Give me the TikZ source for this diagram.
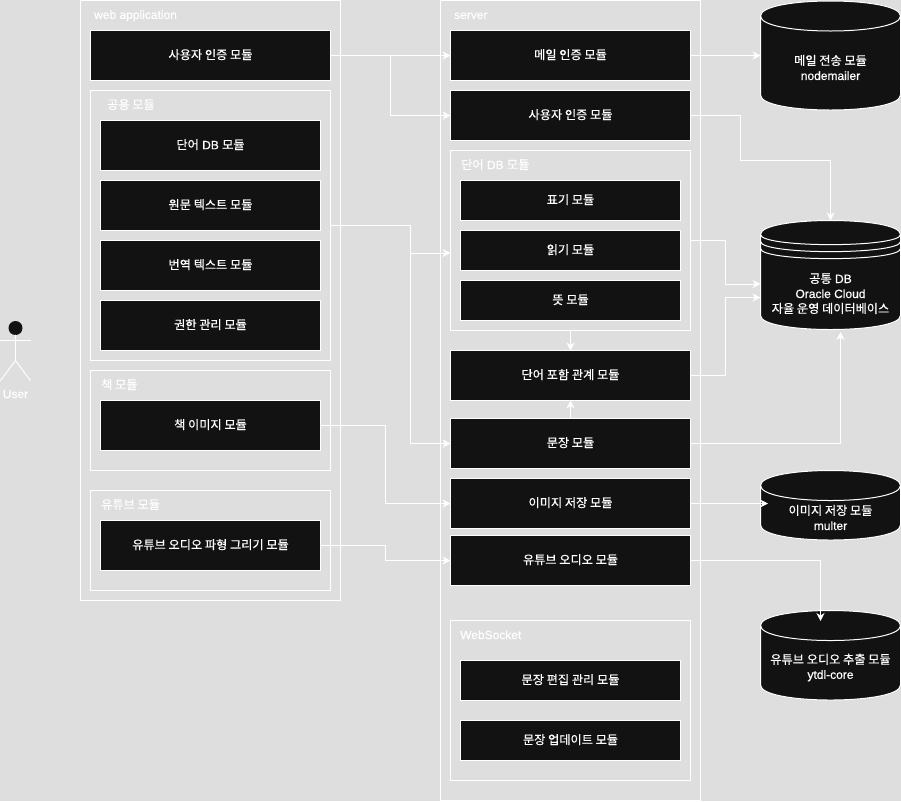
\documentclass[tikz,border=0pt]{standalone}
\usepackage{fontspec}
\setmainfont{Liberation Sans}[FakeBold=0.6]
\newfontfamily\kr{Noto Sans CJK KR}[Scale=1.015,FakeBold=0.5]
\usetikzlibrary{arrows.meta}
\definecolor{pagegrey}{HTML}{DEDEDE}
\definecolor{modblack}{HTML}{121212}

% drum: name, top, bottom, dy, arc depth (x stays 760.5 .. 900.5)
\newcommand{\drum}[5]{%
  \path[drumbody] (760.5,#2+#4) .. controls (760.5,#2-#4/3) and (900.5,#2-#4/3) .. (900.5,#2+#4)
    -- (900.5,#3-#4) .. controls (900.5,#3+#4/3) and (760.5,#3+#4/3) .. (760.5,#3-#4) -- cycle;
  \draw[wire] (760.5,#2+#4) .. controls (760.5,#2+#4+#5) and (900.5,#2+#4+#5) .. (900.5,#2+#4);
  \node[drumanchor, minimum height=#3pt-#2pt] (#1) at (830.5,#2/2+#3/2) {};
}

\begin{document}
\begin{tikzpicture}[x=1pt, y=-1pt, line cap=round,
    wire/.style={draw=white, line width=1pt},
    link/.style={wire, line cap=butt, -{Stealth[length=8pt,width=8pt,inset=2.5pt]}},
    groupbox/.style={draw=white, line width=1pt, inner sep=0pt, outer sep=0pt},
    modbox/.style={groupbox, fill=modblack, text=white, text height=9.4pt, text depth=2pt,
      font=\fontsize{12}{15}\selectfont},
    wideb/.style={modbox, minimum width=240pt, minimum height=50pt},
    midb/.style={modbox, minimum width=220pt, minimum height=50pt},
    smallb/.style={modbox, minimum width=220pt, minimum height=40pt},
    grouplabel/.style={anchor=west, inner sep=0pt, text=white, font=\fontsize{12}{15}\selectfont},
    drumbody/.style={wire, fill=modblack},
    drumanchor/.style={inner sep=0pt, outer sep=0pt, minimum width=140pt},
    drumlabel/.style={inner sep=0pt, text=white, align=center, font=\fontsize{12}{15}\selectfont}]

  \useasboundingbox[fill=pagegrey] (0,0) rectangle (901,801);

  % user
  \node[circle, fill=modblack, minimum size=14pt, inner sep=0pt] (userHead) at (15.5,328) {};
  \coordinate (userHip) at (15.5,360.5);
  \coordinate (userArmL) at (0.5,340.5);
  \coordinate (userArmR) at (30.5,340.5);
  \coordinate (userFootL) at (0.5,380.5);
  \coordinate (userFootR) at (30.5,380.5);
  \draw[wire] (userHead.south) -- (userHip);
  \draw[wire] (userArmL) -- (userArmR);
  \draw[wire] (userFootL) -- (userHip) -- (userFootR);
  \node[drumlabel] (userName) at (15.5,394) {User};

  % web application
  \node[groupbox, minimum width=260pt, minimum height=600pt] (webApp) at (210.5,300.5) {};
  \node[grouplabel] (webAppName) at (94,15.8) {web application};
  \node[wideb] (webAuth) at (210.5,55.5) {\kr 사용자 인증 모듈};

  \node[groupbox, minimum width=240pt, minimum height=270pt] (webShared) at (210.5,225.5) {};
  \node[grouplabel] (webSharedName) at (107,104.6) {\kr 공용 모듈};
  \node[midb] (webWord) at (210.5,145.5) {{\kr 단어} DB {\kr 모듈}};
  \node[midb] (webSource) at (210.5,205.5) {\kr 원문 텍스트 모듈};
  \node[midb] (webTrans) at (210.5,265.5) {\kr 번역 텍스트 모듈};
  \node[midb] (webRights) at (210.5,325.5) {\kr 권한 관리 모듈};

  \node[groupbox, minimum width=240pt, minimum height=100pt] (webBook) at (210.5,420.5) {};
  \node[grouplabel] (webBookName) at (101,384.6) {\kr 책 모듈};
  \node[midb] (webBookImg) at (210.5,425.5) {\kr 책 이미지 모듈};

  \node[groupbox, minimum width=240pt, minimum height=100pt] (webYt) at (210.5,540.5) {};
  \node[grouplabel] (webYtName) at (101,504.6) {\kr 유튜브 모듈};
  \node[midb] (webYtWave) at (210.5,545.5) {\kr 유튜브 오디오 파형 그리기 모듈};

  % server
  \node[groupbox, minimum width=260pt, minimum height=800pt] (srv) at (570.5,400.5) {};
  \node[grouplabel] (srvName) at (454,15.8) {server};
  \node[wideb] (srvMail) at (570.5,55.5) {\kr 메일 인증 모듈};
  \node[wideb] (srvAuth) at (570.5,115.5) {\kr 사용자 인증 모듈};

  \node[groupbox, minimum width=240pt, minimum height=180pt] (wordDB) at (570.5,240.5) {};
  \node[grouplabel] (wordDBName) at (461,164.6) {{\kr 단어} DB {\kr 모듈}};
  \node[smallb] (wordForm) at (570.5,200.5) {\kr 표기 모듈};
  \node[smallb] (wordRead) at (570.5,250.5) {\kr 읽기 모듈};
  \node[smallb] (wordMean) at (570.5,300.5) {\kr 뜻 모듈};

  \node[wideb] (srvContain) at (570.5,375.5) {\kr 단어 포함 관계 모듈};
  \node[wideb] (srvSent) at (570.5,443.5) {\kr 문장 모듈};
  \node[wideb] (srvImage) at (570.5,503.5) {\kr 이미지 저장 모듈};
  \node[wideb] (srvYt) at (570.5,560.5) {\kr 유튜브 오디오 모듈};

  \node[groupbox, minimum width=240pt, minimum height=160pt] (socket) at (570.5,700.5) {};
  \node[grouplabel] (socketName) at (460,634.8) {WebSocket};
  \node[smallb] (sockEdit) at (570.5,680.5) {\kr 문장 편집 관리 모듈};
  \node[smallb] (sockUpdate) at (570.5,740.5) {\kr 문장 업데이트 모듈};

  % drums
  \drum{dbMail}{1}{110}{15}{20}
  \node[drumlabel] (dbMailName) at (830.5,67.5) {{\kr 메일 전송 모듈}\\nodemailer};

  \drum{dbShared}{220.5}{329.5}{14}{13.5}
  \draw[wire] (760.5,241.5) .. controls (760.5,255) and (900.5,255) .. (900.5,241.5);
  \draw[wire] (760.5,248.5) .. controls (760.5,262) and (900.5,262) .. (900.5,248.5);
  \node[drumlabel] (dbSharedName) at (830.5,293.6) {{\kr 공통} DB\\Oracle Cloud\\{\kr 자율 운영 데이터베이스}};

  \drum{dbImage}{470.5}{540}{15}{20}
  \node[drumlabel] (dbImageName) at (830.5,517.5) {{\kr 이미지 저장 모듈}\\multer};

  \drum{dbYt}{610.5}{700}{15}{20}
  \node[drumlabel] (dbYtName) at (830.5,667.5) {{\kr 유튜브 오디오 추출 모듈}\\ytdl-core};

  % arrow ends that are not on an anchor
  \coordinate (wordIn) at (450.5,253);
  \coordinate (dbSharedA) at (760.5,284);
  \coordinate (dbSharedB) at (760.5,297.5);
  \coordinate (dbSharedC) at (840.5,332);
  \coordinate (dbImageIn) at (768,503.5);
  \coordinate (dbYtIn) at (820.5,621);

  % web to server
  \draw[link] (webAuth.east) -- (srvMail.west);
  \draw[link] (webAuth.east) -- ++(60,0) |- (srvAuth.west);
  \draw[link] (webShared.east) -- ++(80,0) |- (wordIn);
  \draw[link] (webShared.east) -- ++(80,0) |- (srvSent.west);
  \draw[link] (webBookImg.east) -- ++(65,0) |- (srvImage.west);
  \draw[link] (webYtWave.east) -- ++(65,0) |- (srvYt.west);

  % inside server
  \draw[link] (wordDB.south) -- (srvContain.north);
  \draw[link] (srvSent.north) -- (srvContain.south);

  % server to drums
  \draw[link] (srvMail.east) -- (dbMail.west |- srvMail.east);
  \draw[link] (srvAuth.east) -- ++(50,0) -- ++(0,45) -| (dbShared.north);
  \draw[link] (wordDB.east) -- ++(35,0) |- (dbSharedA);
  \draw[link] (srvContain.east) -- ++(35,0) |- (dbSharedB);
  \draw[link] (srvSent.east) -| (dbSharedC);
  \draw[link] (srvImage.east) -- (dbImageIn);
  \draw[link] (srvYt.east) -| (dbYtIn);
\end{tikzpicture}
\end{document}
